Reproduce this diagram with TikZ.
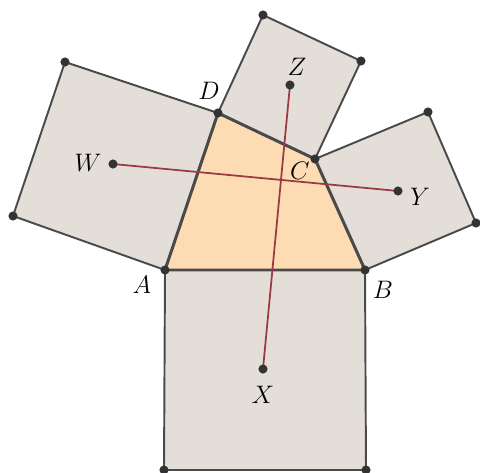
\documentclass[tikz,border=0pt]{standalone}
\usepackage{amsmath,amssymb}
\usepackage{tikz}
\definecolor{sqfill}{HTML}{E4DED8}
\definecolor{quadfill}{HTML}{FDDCB4}
\definecolor{edgegray}{HTML}{4A4A4A}
\definecolor{medianred}{HTML}{9A3A44}
\tikzset{
  sq/.style={fill=sqfill,draw=edgegray,line width=1.1pt,line join=round},
  quad/.style={draw=edgegray,line width=1.7pt,line join=round},
  seg/.style={medianred,line width=1pt},
  pt/.style={fill=black!80},
  lbl/.style={font=\fontsize{14}{16}\selectfont,inner sep=0pt}
}
\begin{document}
\begin{tikzpicture}[x=0.02cm,y=-0.02cm]
\useasboundingbox (0,0) rectangle (480,473);
% quadrilateral
\coordinate (A) at (165,270);
\coordinate (B) at (365,270);
\coordinate (C) at (315,159);
\coordinate (D) at (218,113);
% outer corners of the squares
\coordinate (A1) at (164,470); \coordinate (B1) at (366,470);
\coordinate (B2) at (476,223); \coordinate (C2) at (428,112);
\coordinate (C3) at (361,61);  \coordinate (D3) at (263,15);
\coordinate (D4) at (65,62);   \coordinate (A4) at (13,216);
% centres
\coordinate (W) at (113,164);
\coordinate (X) at (263,369);
\coordinate (Y) at (398,191);
\coordinate (Z) at (290,85);
\draw[sq] (A) -- (B) -- (B1) -- (A1) -- cycle;
\draw[sq] (B) -- (C) -- (C2) -- (B2) -- cycle;
\draw[sq] (C) -- (D) -- (D3) -- (C3) -- cycle;
\draw[sq] (D) -- (A) -- (A4) -- (D4) -- cycle;
\fill[quadfill] (A) -- (B) -- (C) -- (D) -- cycle;
\draw[quad] (A) -- (B) -- (C) -- (D) -- cycle;
\draw[seg] (W) -- (Y);
\draw[seg] (Z) -- (X);
\foreach \p in {A,B,C,D,A1,B1,B2,C2,C3,D3,D4,A4,W,X,Y,Z}
  \fill[pt] (\p) circle (2.6pt);
\node[lbl] (lA) at (142,285) {$A$};
\node[lbl] (lB) at (383,290) {$B$};
\node[lbl] (lC) at (300,171) {$C$};
\node[lbl] (lD) at (209,91) {$D$};
\node[lbl] (lW) at (88,163) {$W$};
\node[lbl] (lX) at (263,395) {$X$};
\node[lbl] (lY) at (420,197) {$Y$};
\node[lbl] (lZ) at (297,67) {$Z$};
\end{tikzpicture}
\end{document}
